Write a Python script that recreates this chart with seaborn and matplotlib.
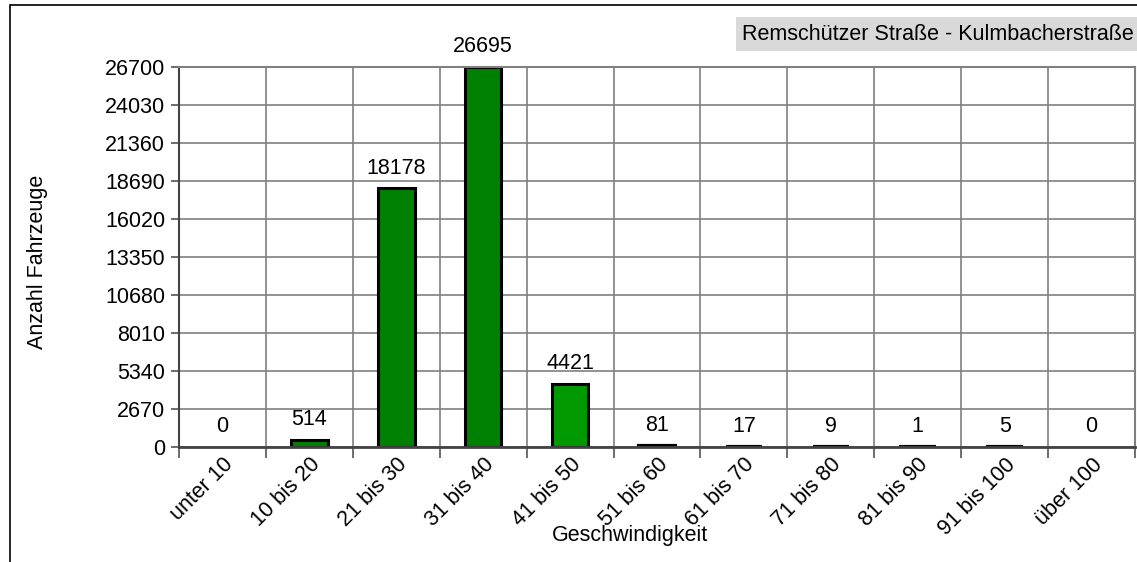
#!/usr/bin/env python3

import pandas as pd
import matplotlib.pyplot as plt
import seaborn as sns
from matplotlib.patches import Rectangle

categories = ['unter 10', '10 bis 20', '21 bis 30', '31 bis 40', '41 bis 50',
              '51 bis 60', '61 bis 70', '71 bis 80', '81 bis 90', '91 bis 100',
              'über 100']
counts = [0, 514, 18178, 26695, 4421, 81, 17, 9, 1, 5, 0]
yticks = [0, 2670, 5340, 8010, 10680, 13350, 16020, 18690, 21360, 24030, 26700]
title = 'Remschützer Straße - Kulmbacherstraße'

df = pd.DataFrame({'Geschwindigkeit': categories, 'Anzahl': counts})

sns.set_style('white')
plt.rcParams['font.family'] = ['Liberation Sans', 'DejaVu Sans']
plt.rcParams['text.color'] = 'black'
plt.rcParams['xtick.color'] = 'black'
plt.rcParams['ytick.color'] = 'black'
fs = 15.5

fig = plt.figure(figsize=(11.37, 5.62), dpi=100)
ax = fig.add_axes([179 / 1137, 1 - 447 / 562, (1135 - 179) / 1137, (447 - 67) / 562])

colors = ['#008000'] * len(categories)
colors[4] = '#009900'
sns.barplot(data=df, x='Geschwindigkeit', y='Anzahl', hue='Geschwindigkeit',
            palette=colors, legend=False, width=0.42, edgecolor='black',
            linewidth=2.2, ax=ax, saturation=1)

# zero bars are not drawn in the original, tiny ones show as a thick line
for p, v in zip(ax.patches, counts):
    if v == 0:
        p.set_edgecolor('none')
    elif v < 200:
        p.set_linewidth(3)

for c in ax.containers:
    ax.bar_label(c, padding=7, fontsize=fs, clip_on=False, color='black')

ax.set_ylim(0, 26700)
ax.set_xlim(-0.5, len(categories) - 0.5)
ax.set_yticks(yticks)
ax.set_yticklabels([str(v) for v in yticks], fontsize=fs)
ax.set_xticks(range(len(categories)))
ax.set_xticklabels(categories, rotation=45, ha='right', rotation_mode='anchor',
                   fontsize=fs)
ax.set_xticks([i - 0.5 for i in range(len(categories) + 1)], minor=True)

ax.tick_params(axis='x', which='major', length=0, pad=5)
ax.tick_params(axis='x', which='minor', length=8, width=1.2, color='#555555',
               bottom=True)
ax.tick_params(axis='y', length=6, width=1.2, color='#555555', left=True, pad=4)

ax.grid(axis='y', which='major', color='#808080', lw=1.2)
ax.grid(axis='x', which='minor', color='#808080', lw=1.2)
ax.grid(axis='x', which='major', visible=False)
ax.set_axisbelow(True)

for s in ax.spines.values():
    s.set_color('#808080')
    s.set_linewidth(1.5)
ax.spines['left'].set_color('#444444')
ax.spines['bottom'].set_color('#444444')
ax.spines['bottom'].set_linewidth(2)

ax.set_xlabel('')
ax.set_ylabel('')
fig.text(630 / 1137, 1 - 536 / 562, 'Geschwindigkeit', ha='center', va='center',
         fontsize=fs)
fig.text(38 / 1137, 1 - 262 / 562, 'Anzahl Fahrzeuge', ha='center', va='center',
         rotation=90, fontsize=fs)

fig.text(1134 / 1137, 1 - 34 / 562, title, ha='right', va='center', fontsize=fs,
         bbox=dict(boxstyle='square,pad=0.3', facecolor='#d9d9d9',
                   edgecolor='none'))

fig.patches.append(Rectangle((10 / 1137, -0.1), 1.2, 1.1 - 5 / 562,
                             transform=fig.transFigure, fill=False,
                             edgecolor='black', lw=1.2))

plt.savefig('out.png', dpi=100)
plt.close()
